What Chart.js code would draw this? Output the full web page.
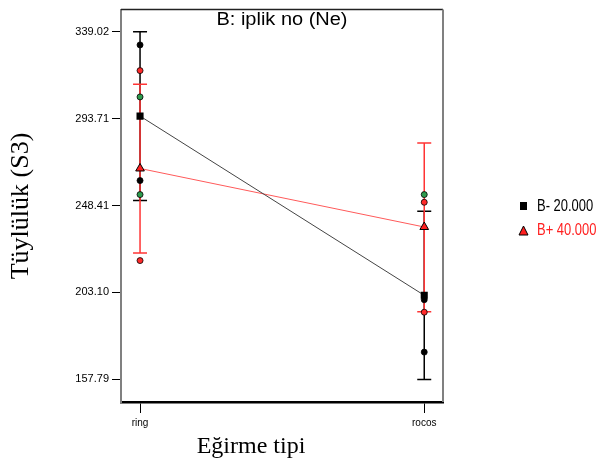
<!DOCTYPE html>
<html>
<head>
<meta charset="utf-8">
<script src="https://cdn.jsdelivr.net/npm/chart.js@4/dist/chart.umd.min.js"></script>
<style>
  html, body { margin: 0; padding: 0; background: #fff; }
  #wrap { width: 598px; height: 467px; position: relative; }
</style>
</head>
<body>
<div id="wrap"><canvas id="c" width="598" height="467"></canvas></div>
<script>
// ---- data ----
const categories = ['ring', 'rocos'];
const yTickValues = [157.79, 203.10, 248.41, 293.71, 339.02];
const yTickLabels = ['157.79', '203.10', '248.41', '293.71', '339.02'];

// interaction means (B- 20.000 and B+ 40.000)
const meanLow = [295.0, 201.6];
const meanHigh = [267.7, 237.2];

// LSD / error bar limits
const lowLower = [251.0, 157.79];
const lowUpper = [339.02, 245.4];
const highLower = [223.7, 193.0];
const highUpper = [311.6, 281.0];

// design points
const blackRing = [332.1, 261.4];
const blackRocos = [199.3, 172.0];
const redRing = [318.7, 219.7];
const redRocos = [250.1, 192.8];
const greenRing = [305.0, 254.1];
const greenRocos = [254.1];

const seriesNames = ['B- 20.000', 'B+ 40.000'];
const titleText = 'B: iplik no (Ne)';
const xTitle = 'Eğirme tipi';
const yTitle = 'Tüylülük (S3)';

function pts(ringVals, rocosVals) {
  return ringVals.map(v => ({x: 0, y: v})).concat(rocosVals.map(v => ({x: 1, y: v})));
}
function meanPts(arr) { return arr.map((v, i) => ({x: i, y: v})); }

const errPlugin = {
  id: 'errbars',
  beforeDatasetsDraw(chart) {
    const ctx = chart.ctx, xs = chart.scales.x, ys = chart.scales.y;
    const groups = [
      {lo: lowLower, hi: lowUpper, color: '#000000'},
      {lo: highLower, hi: highUpper, color: '#ff3434'}
    ];
    ctx.save();
    groups.forEach(g => {
      ctx.strokeStyle = g.color;
      ctx.lineWidth = 1.5;
      g.lo.forEach((lo, i) => {
        const px = xs.getPixelForValue(i);
        const p1 = ys.getPixelForValue(lo), p2 = ys.getPixelForValue(g.hi[i]);
        ctx.beginPath();
        ctx.moveTo(px, p1); ctx.lineTo(px, p2);
        ctx.moveTo(px - 7, p1); ctx.lineTo(px + 7, p1);
        ctx.moveTo(px - 7, p2); ctx.lineTo(px + 7, p2);
        ctx.stroke();
      });
    });
    ctx.restore();
  }
};

function stretchedText(ctx, text, x, y, sx) {
  ctx.save();
  ctx.translate(x, y);
  ctx.scale(sx, 1);
  ctx.fillText(text, 0, 0);
  ctx.restore();
}

const textPlugin = {
  id: 'texts',
  afterDraw(chart) {
    const ctx = chart.ctx, a = chart.chartArea;
    ctx.save();
    // top and right frame
    ctx.strokeStyle = '#222'; ctx.lineWidth = 1.5;
    ctx.beginPath(); ctx.moveTo(a.left, a.top); ctx.lineTo(a.right, a.top); ctx.stroke();
    ctx.strokeStyle = '#808080'; ctx.lineWidth = 2;
    ctx.beginPath(); ctx.moveTo(a.right, a.top); ctx.lineTo(a.right, a.bottom); ctx.stroke();

    ctx.fillStyle = '#000';
    ctx.font = '18px "Liberation Sans", Arial, sans-serif';
    ctx.textAlign = 'center'; ctx.textBaseline = 'alphabetic';
    stretchedText(ctx, titleText, (a.left + a.right) / 2, 25, 1.11);

    ctx.font = '24px "Liberation Serif", "Times New Roman", serif';
    ctx.fillText(xTitle, 251, 453);

    ctx.save();
    ctx.translate(28, 206);
    ctx.rotate(-Math.PI / 2);
    ctx.font = '26px "Liberation Serif", "Times New Roman", serif';
    ctx.fillText(yTitle, 0, 0);
    ctx.restore();

    // legend
    ctx.textAlign = 'left'; ctx.textBaseline = 'middle';
    ctx.font = '16px "Liberation Sans", Arial, sans-serif';
    ctx.fillStyle = '#000';
    ctx.fillRect(520, 202, 7, 8);
    stretchedText(ctx, seriesNames[0], 537, 207, 0.81);
    ctx.beginPath();
    ctx.moveTo(523.5, 226); ctx.lineTo(528, 235); ctx.lineTo(519, 235); ctx.closePath();
    ctx.fillStyle = '#ff2020'; ctx.fill();
    ctx.strokeStyle = '#000'; ctx.lineWidth = 1; ctx.stroke();
    ctx.fillStyle = '#ff2020';
    stretchedText(ctx, seriesNames[1], 537, 231, 0.81);
    ctx.restore();
  }
};

new Chart(document.getElementById('c'), {
  type: 'scatter',
  data: {
    datasets: [
      {
        type: 'line', label: seriesNames[0], data: meanPts(meanLow), order: 1,
        borderColor: '#444', borderWidth: 1, showLine: true,
        pointStyle: 'rect', pointRadius: 5, pointBackgroundColor: '#000', pointBorderColor: '#000', pointBorderWidth: 0
      },
      {
        type: 'line', label: seriesNames[1], data: meanPts(meanHigh), order: 2,
        borderColor: '#ff5a5a', borderWidth: 1, showLine: true,
        pointStyle: 'triangle', pointRadius: 5, pointBackgroundColor: '#ff2020', pointBorderColor: '#000', pointBorderWidth: 1
      },
      {
        label: 'black', data: pts(blackRing, blackRocos), order: 3,
        pointRadius: 3, pointBackgroundColor: '#000', pointBorderColor: '#000', pointBorderWidth: 0.8
      },
      {
        label: 'red', data: pts(redRing, redRocos), order: 4,
        pointRadius: 3, pointBackgroundColor: '#ff2a2a', pointBorderColor: '#000', pointBorderWidth: 0.8
      },
      {
        label: 'green', data: pts(greenRing, greenRocos), order: 5,
        pointRadius: 3, pointBackgroundColor: '#2e9b4e', pointBorderColor: '#000', pointBorderWidth: 0.8
      }
    ]
  },
  options: {
    responsive: false,
    animation: false,
    events: [],
    layout: { padding: { left: 0, right: 155, top: 9, bottom: 0 } },
    plugins: { legend: { display: false }, tooltip: { enabled: false } },
    scales: {
      x: {
        type: 'linear', min: -0.067, max: 1.066,
        afterBuildTicks: s => { s.ticks = [0, 1].map(v => ({value: v})); },
        afterFit: s => { s.height = 65; },
        grid: { display: true, drawOnChartArea: false, drawTicks: true, tickLength: 11, color: '#000', lineWidth: 1 },
        border: { display: true, color: '#000', width: 2.5 },
        ticks: { callback: (v, i) => categories[i], color: '#000', padding: 4, maxRotation: 0,
                 font: { family: '"Liberation Sans", Arial, sans-serif', size: 10 } }
      },
      y: {
        min: 146.0, max: 350.5,
        afterBuildTicks: s => { s.ticks = yTickValues.map(v => ({value: v})); },
        afterFit: s => { s.width = 121; },
        grid: { display: true, drawOnChartArea: false, drawTicks: true, tickLength: 9, color: '#000', lineWidth: 1 },
        border: { display: true, color: '#808080', width: 2 },
        ticks: { callback: (v, i) => yTickLabels[i], color: '#000', padding: 3,
                 font: { family: '"Liberation Sans", Arial, sans-serif', size: 11 } }
      }
    }
  },
  plugins: [errPlugin, textPlugin]
});
</script>
</body>
</html>
